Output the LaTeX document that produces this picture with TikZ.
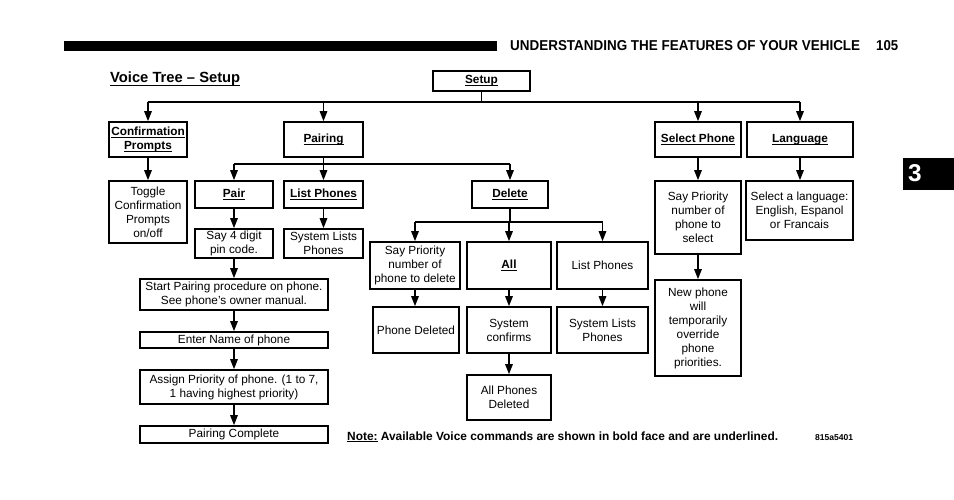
\documentclass[tikz,border=0pt]{standalone}
\usepackage{fontspec}
\setmainfont{Liberation Sans}
\usetikzlibrary{arrows.meta}
\newcommand\ulb[1]{\underline{\smash{\textbf{#1}}}\vphantom{Ag}}
\newcommand\BX[6]{\node[bx,minimum width={(#3-#2)*1pt},minimum height={(#5-#4)*1pt}] (#1) at ({(#2+#3)/2},{(#4+#5)/2}) {#6};}
\begin{document}
\begin{tikzpicture}[x=1pt,y=-1pt,
  bx/.style={draw,line width=1.6pt,align=center,inner sep=0pt,font=\fontsize{11.8}{14}\selectfont},
  ln/.style={line width=1.4pt},
  arr/.style={line width=1.4pt,-{Triangle[length=10pt,width=7.5pt]}},
  lbl/.style={anchor=base west,inner sep=0pt}]
\useasboundingbox (0,0) rectangle (954,500);
% header
\fill (64,41) rectangle (497,51);
\node[lbl] (hdr) at (510,51) {\resizebox{350pt}{10pt}{\bfseries UNDERSTANDING THE FEATURES OF YOUR VEHICLE}};
\node[lbl] (pg) at (876,51) {\resizebox{22pt}{10pt}{\bfseries 105}};
\fill (903,158) rectangle (954,190);
\node[lbl,text=white] (tab) at (908,182) {\resizebox{!}{17pt}{\bfseries 3}};
\node[lbl] (title) at (110,83) {\resizebox{130pt}{!}{\ulb{Voice Tree – Setup}}};
\node[lbl] (note) at (347,440) {\resizebox{431pt}{!}{\ulb{Note:} \textbf{Available Voice commands are shown in bold face and are underlined.}}};
\node[lbl] (code) at (815,440) {\resizebox{38pt}{!}{\textbf{815a5401}}};
% boxes
\BX{setup}{433}{530}{71}{91}{\ulb{Setup}}
\BX{conf}{109}{187}{122}{157}{\ulb{Confirmation}\\\ulb{Prompts}}
\BX{pairing}{284}{363}{122}{157}{\ulb{Pairing}}
\BX{selph}{655}{741}{122}{157}{\ulb{Select Phone}}
\BX{lang}{747}{853}{122}{157}{\ulb{Language}}
\BX{toggle}{109}{187}{181}{243}{Toggle\\Confirmation\\Prompts\\on/off}
\BX{pair}{195}{273}{181}{208}{\ulb{Pair}}
\BX{listph}{284}{363}{181}{208}{\ulb{List Phones}}
\BX{delete}{472}{548}{181}{208}{\ulb{Delete}}
\BX{saysel}{655}{741}{181}{254}{Say Priority\\number of\\phone to\\select}
\BX{langsel}{746}{853}{181}{240}{Select a language:\\English, Espanol\\or Francais}
\BX{say4}{195}{273}{229}{258}{Say 4 digit\\pin code.}
\BX{sys1}{284}{363}{229}{258}{System Lists\\Phones}
\BX{saydel}{370}{460}{242}{289}{Say Priority\\number of\\phone to delete}
\BX{all}{467}{551}{242}{289}{\ulb{All}}
\BX{listph2}{557}{648}{242}{289}{List Phones}
\BX{phdel}{373}{459}{307}{353}{Phone Deleted}
\BX{sysconf}{467}{551}{307}{353}{System\\confirms}
\BX{sys2}{557}{648}{307}{353}{System Lists\\Phones}
\BX{newph}{655}{741}{280}{376}{New phone\\will\\temporarily\\override\\phone\\priorities.}
\BX{start}{140}{328}{279}{310}{Start Pairing procedure on phone.\\See phone’s owner manual.}
\BX{enter}{140}{328}{332}{348}{Enter Name of phone}
\BX{assign}{140}{328}{370}{404}{Assign Priority of phone. (1 to 7,\\1 having highest priority)}
\BX{complete}{140}{328}{426}{443}{Pairing Complete}
\BX{allphdel}{467}{551}{375}{420}{All Phones\\Deleted}
% buses
\coordinate (t0) at (481.5,102);
\draw[ln] (setup.south) -- (t0);
\draw[ln] (conf.north |- t0) -- (lang.north |- t0);
\foreach \n in {conf,pairing,selph,lang} \draw[arr] (\n.north |- t0) -- (\n.north);
\coordinate (t1) at (323.5,164);
\draw[ln] (pairing.south) -- (t1);
\draw[ln] (pair.north |- t1) -- (delete.north |- t1);
\foreach \n in {pair,listph,delete} \draw[arr] (\n.north |- t1) -- (\n.north);
\coordinate (t2) at (510,222);
\draw[ln] (delete.south) -- (t2);
\draw[ln] (saydel.north |- t2) -- (listph2.north |- t2);
\foreach \n in {saydel,all,listph2} \draw[arr] (\n.north |- t2) -- (\n.north);
% chains
\foreach \a/\b in {conf/toggle,pair/say4,listph/sys1,say4/start,start/enter,enter/assign,assign/complete,saydel/phdel,all/sysconf,sysconf/allphdel,listph2/sys2,selph/saysel,saysel/newph,lang/langsel}
  \draw[arr] (\a.south) -- (\a.south |- \b.north);
\end{tikzpicture}
\end{document}
